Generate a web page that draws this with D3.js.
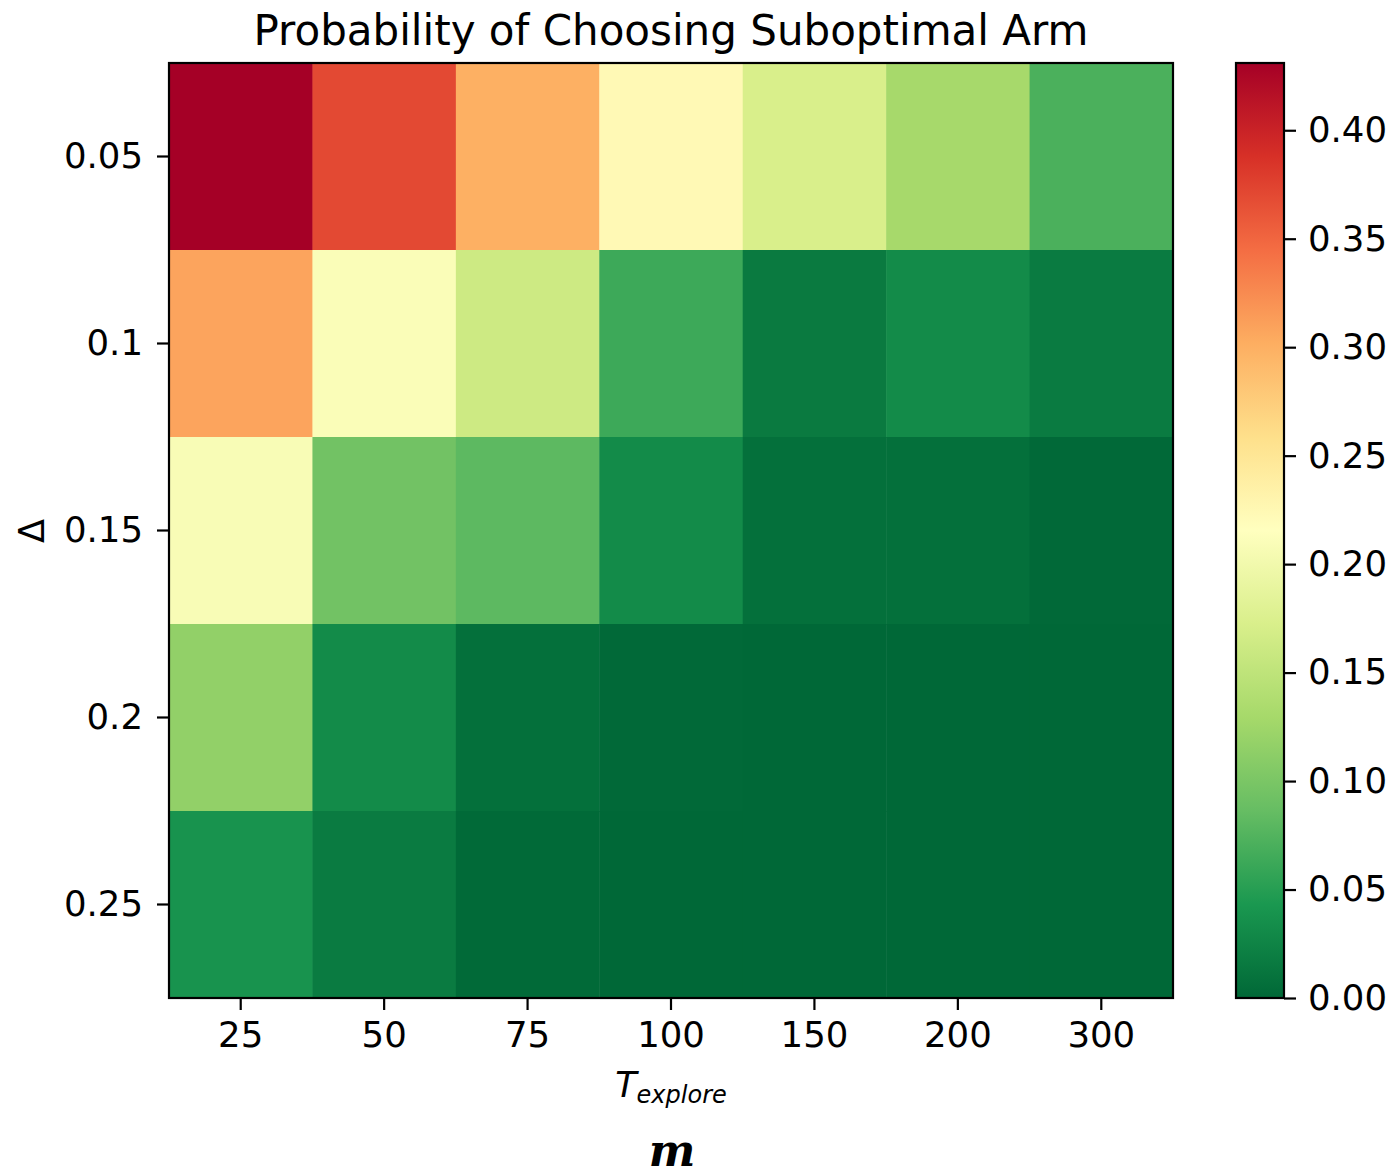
<!DOCTYPE html>
<html lang="en">
<head>
  <meta charset="UTF-8" />
  <title>Probability of Choosing Suboptimal Arm</title>
  <style>
    body { margin: 0; background: #fff; }
    svg { display: block; }
    .axis text { font-family: "DejaVu Sans", sans-serif; font-size: 35.5px; fill: #000; }
    .axis path, .axis line { stroke: #000; stroke-width: 2.2; }
  </style>
</head>
<body>
  <svg id="chart" width="1392" height="1175" viewBox="0 0 1392 1175" xmlns="http://www.w3.org/2000/svg"></svg>

  <script src="https://d3js.org/d3.v7.min.js"></script>
  <script>
    // values (rows = delta, cols = T_explore)
    const exploreLabels = ["25", "50", "75", "100", "150", "200", "300"];
    const deltaLabels = ["0.05", "0.1", "0.15", "0.2", "0.25"];
    const row005 = [0.431, 0.370, 0.300, 0.224, 0.172, 0.130, 0.071];
    const row010 = [0.308, 0.210, 0.162, 0.063, 0.016, 0.031, 0.017];
    const row015 = [0.208, 0.094, 0.081, 0.031, 0.007, 0.007, 0.001];
    const row020 = [0.116, 0.031, 0.007, 0.001, 0.000, 0.000, 0.000];
    const row025 = [0.039, 0.017, 0.002, 0.000, 0.000, 0.000, 0.000];
    const rows = [row005, row010, row015, row020, row025];
    const cbarTicks = [0, 0.05, 0.1, 0.15, 0.2, 0.25, 0.3, 0.35, 0.4];

    const svg = d3.select("#chart");
    const plotL = 169, plotR = 1173, plotT = 63, plotB = 998;
    const vmax = d3.max(rows.flat());

    // matplotlib RdYlGn_r : linear segments between the 11 brewer colours
    const stops = d3.schemeRdYlGn[11].slice().reverse();
    const color = d3.scaleLinear()
      .domain(stops.map((_, i) => i / 10 * vmax))
      .range(stops)
      .clamp(true);

    const x = d3.scaleBand().domain(exploreLabels).range([plotL, plotR]);
    const y = d3.scaleBand().domain(deltaLabels).range([plotT, plotB]);

    const cells = [];
    rows.forEach((r, i) => r.forEach((v, j) => cells.push({ d: deltaLabels[i], t: exploreLabels[j], v })));

    svg.append("g")
      .selectAll("rect")
      .data(cells)
      .join("rect")
      .attr("x", d => x(d.t))
      .attr("y", d => y(d.d))
      .attr("width", x.bandwidth() + 0.5)
      .attr("height", y.bandwidth() + 0.5)
      .attr("fill", d => color(d.v));

    svg.append("rect")
      .attr("x", plotL).attr("y", plotT)
      .attr("width", plotR - plotL).attr("height", plotB - plotT)
      .attr("fill", "none").attr("stroke", "#000").attr("stroke-width", 2.2);

    svg.append("g")
      .attr("class", "axis")
      .attr("transform", `translate(0,${plotB})`)
      .call(d3.axisBottom(x).tickSize(12).tickPadding(12).tickSizeOuter(0))
      .call(g => g.select(".domain").remove());

    svg.append("g")
      .attr("class", "axis")
      .attr("transform", `translate(${plotL},0)`)
      .call(d3.axisLeft(y).tickSize(12).tickPadding(14).tickSizeOuter(0))
      .call(g => g.select(".domain").remove());

    // title and axis labels
    svg.append("text")
      .attr("x", (plotL + plotR) / 2).attr("y", 45)
      .attr("text-anchor", "middle")
      .style("font-family", "DejaVu Sans, sans-serif")
      .style("font-size", "42px")
      .text("Probability of Choosing Suboptimal Arm");

    svg.append("text")
      .attr("transform", "translate(44,531) rotate(-90)")
      .attr("text-anchor", "middle")
      .style("font-family", "DejaVu Sans, sans-serif")
      .style("font-size", "35px")
      .text("Δ");

    const xl = svg.append("text")
      .attr("x", 671).attr("y", 1097)
      .attr("text-anchor", "middle")
      .style("font-family", "DejaVu Sans, sans-serif")
      .style("font-style", "italic");
    xl.append("tspan").style("font-size", "35px").text("T");
    xl.append("tspan").style("font-size", "24px").attr("dy", 6).text("explore");

    svg.append("text")
      .attr("x", 672).attr("y", 1166)
      .attr("text-anchor", "middle")
      .style("font-family", "DejaVu Serif, serif")
      .style("font-style", "italic")
      .style("font-weight", "bold")
      .style("font-size", "44px")
      .text("m");

    // colorbar
    const cbX = 1236, cbW = 48;
    const cy = d3.scaleLinear().domain([0, vmax]).range([plotB, plotT]);
    const grad = svg.append("defs").append("linearGradient")
      .attr("id", "cbar").attr("x1", 0).attr("y1", 1).attr("x2", 0).attr("y2", 0);
    grad.selectAll("stop")
      .data(stops)
      .join("stop")
      .attr("offset", (_, i) => i / 10)
      .attr("stop-color", d => d);

    svg.append("rect")
      .attr("x", cbX).attr("y", plotT)
      .attr("width", cbW).attr("height", plotB - plotT)
      .attr("fill", "url(#cbar)")
      .attr("stroke", "#000").attr("stroke-width", 2.2);

    svg.append("g")
      .attr("class", "axis")
      .attr("transform", `translate(${cbX + cbW},0)`)
      .call(d3.axisRight(cy).tickValues(cbarTicks).tickFormat(d3.format(".2f"))
        .tickSize(12).tickPadding(12).tickSizeOuter(0))
      .call(g => g.select(".domain").remove());
  </script>
</body>
</html>
